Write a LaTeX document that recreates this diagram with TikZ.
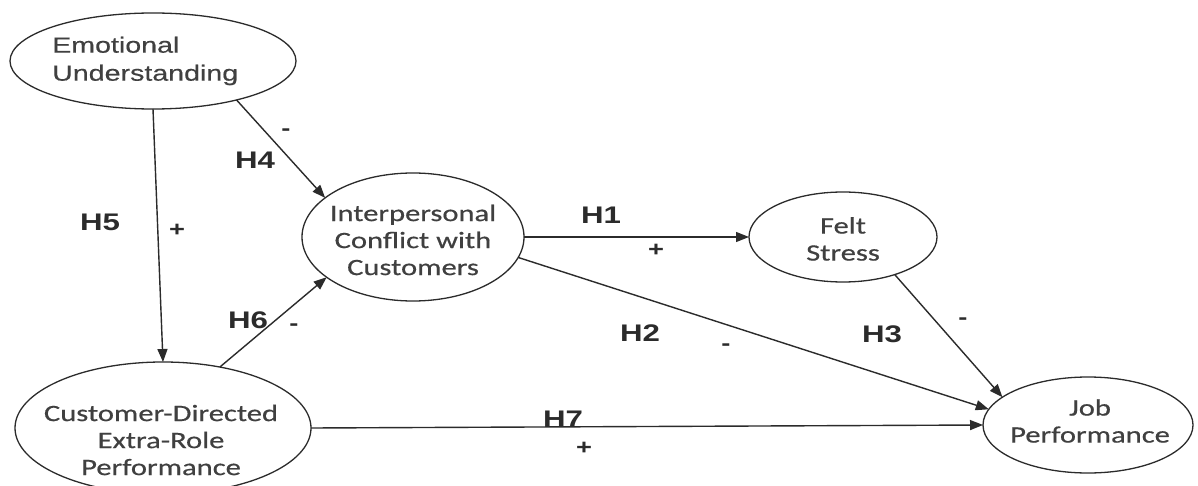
\documentclass[tikz,border=0pt]{standalone}
\usepackage{fontspec}
\setmainfont{Liberation Sans}
\newfontfamily\nodefont[FakeStretch=1.3,FakeBold=0.5]{Carlito}
\newfontfamily\eufont[FakeStretch=1.3,FakeBold=0.4]{Liberation Sans}
\newfontfamily\labfont[FakeStretch=1.3]{Liberation Sans}
\usetikzlibrary{shapes.geometric,arrows.meta}
\definecolor{ink}{HTML}{2B2B2B}
\definecolor{txt}{HTML}{404040}
\begin{document}
\begin{tikzpicture}[x=1pt,y=-1pt,
  ell/.style={ellipse, draw=ink, line width=1.3pt, inner sep=0pt, outer sep=0pt},
  con/.style={draw=ink, line width=1.4pt, -{Triangle[length=13pt,width=10pt]}},
  nt/.style={font=\nodefont\fontsize{23.5}{27}\selectfont, text=txt, align=center, inner sep=0pt},
  hl/.style={font=\labfont\bfseries\fontsize{24}{26}\selectfont, text=ink, inner sep=0pt},
  sg/.style={font=\labfont\bfseries\fontsize{21}{22}\selectfont, text=ink, inner sep=0pt}]
\useasboundingbox[fill=white] (0,0) rectangle (1198,486);

% nodes
\node[ell, minimum width=286pt, minimum height=96pt] (eu) at (153,61) {};
\node[font=\eufont\fontsize{22}{28}\selectfont, text=txt, align=left, anchor=west, inner sep=0pt] (eut) at (52,61) {Emotional\\Understanding};

\node[ell, minimum width=222pt, minimum height=128pt] (ic) at (413,237) {};
\node[nt] (ict) at (413,240) {Interpersonal\\Conflict with\\Customers};

\node[ell, minimum width=188pt, minimum height=90pt] (fs) at (843,237) {};
\node[nt] (fst) at (843,239) {Felt\\Stress};

\node[ell, minimum width=296pt, minimum height=132pt] (cd) at (163,428) {};
\node[nt] (cdt) at (161,440) {Customer-Directed\\Extra-Role\\Performance};

\node[ell, minimum width=210pt, minimum height=96pt] (jp) at (1088,425) {};
\node[nt] (jpt) at (1090,421) {Job\\Performance};

% connectors
\draw[con] (eu.-25) -- (ic.156);
\draw[con] (eu.south) -- (cd.north);
\draw[con] (cd.47) -- (ic.205);
\draw[con] (ic.east) -- (fs.west);
\draw[con] (ic.-11) -- (jp.171);
\draw[con] (fs.-36) -- (jp.162);
\draw[con] (cd.east) -- (jp.west);

% labels
\node[hl] (h1) at (601,215) {H1};
\node[sg] (s1) at (656,250) {+};
\node[hl] (h2) at (640,333) {H2};
\node[sg] (s2) at (726,347) {-};
\node[hl] (h3) at (882,334) {H3};
\node[sg] (s3) at (963,321) {-};
\node[hl] (h4) at (255,160) {H4};
\node[sg] (s4) at (286,132) {-};
\node[hl] (h5) at (100,222) {H5};
\node[sg] (s5) at (177,230) {+};
\node[hl] (h6) at (248,320) {H6};
\node[sg] (s6) at (294,327) {-};
\node[hl] (h7) at (563,419) {H7};
\node[sg] (s7) at (584,448) {+};
\end{tikzpicture}
\end{document}
